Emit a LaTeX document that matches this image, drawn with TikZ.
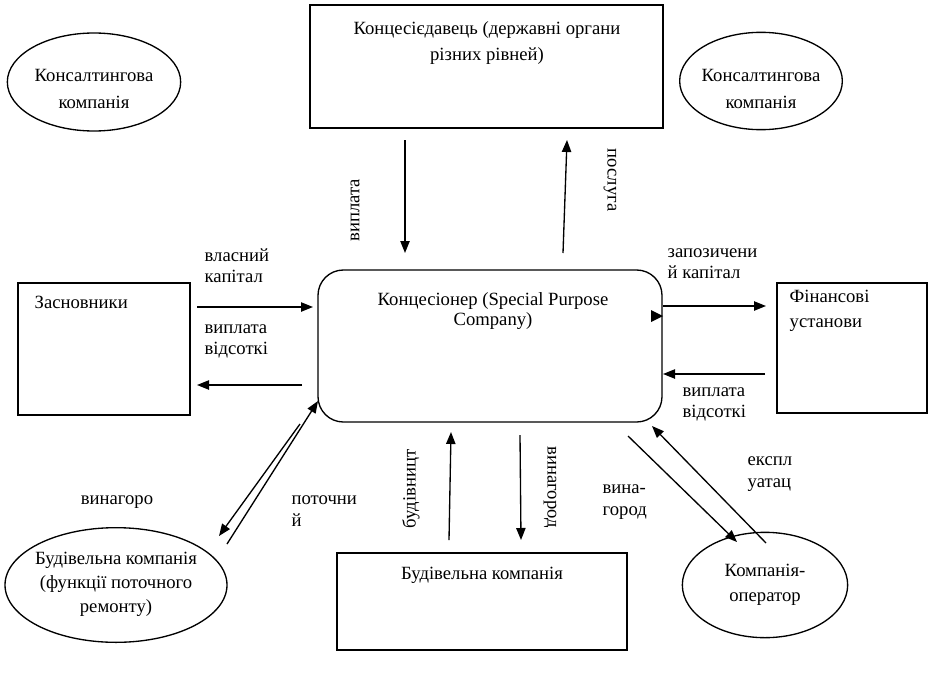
\documentclass[tikz,border=0pt]{standalone}
\usepackage{fontspec}
\setmainfont{Liberation Serif}
\usetikzlibrary{shapes.geometric,arrows.meta}
\begin{document}
\begin{tikzpicture}[x=0.75pt,y=-0.75pt,
  font=\fontsize{14}{16}\selectfont, line width=1pt,
  arr/.style={-{Triangle[length=9pt,width=7pt]}},
  ell/.style={draw, ellipse, inner sep=0pt},
  txt/.style={inner sep=0pt, align=center},
  ltxt/.style={inner sep=0pt, align=left},
  rtxt/.style={inner sep=0pt}]
\useasboundingbox (0,0) rectangle (945,675);

% shapes
\node[ell, minimum width=130pt, minimum height=73.5pt] (consL) at (94,82) {};
\node[txt] (consLt) at (94,89) {Консалтингова\\[4pt]компанія};
\node[ell, minimum width=122pt, minimum height=73pt] (consR) at (761,81) {};
\node[txt] (consRt) at (761,89) {Консалтингова\\[4pt]компанія};

\draw (310,5) rectangle (663,128);
\coordinate (grantor) at (486.5,66.5);
\node[txt] (grantort) at (487,43) {Концесієдавець (державні органи\\[3pt]різних рівней)};

\draw[rounded corners=19pt] (318,270) rectangle (662,422);
\coordinate (spc) at (490,346);
\node[txt, font=\fontsize{14}{15.5}\selectfont] (spct) at (493,311) {Концесіонер (Special Purpose\\Company)};

\draw (18,283) rectangle (190,415);
\node[ltxt, anchor=west] (foundt) at (34,302) {Засновники};

\draw (777,283) rectangle (927,413);
\node[ltxt, anchor=north west] (fint) at (789,289) {Фінансові\\[3pt]установи};

\draw (337,553) rectangle (627,650);
\node[txt] (buildt) at (482,575) {Будівельна компанія};

\node[ell, minimum width=166.5pt, minimum height=86pt] (bl) at (116,585) {};
\node[txt] (blt) at (116,584) {Будівельна компанія\\[2pt](функції поточного\\[2pt]ремонту)};
\node[ell, minimum width=124pt, minimum height=79pt] (br) at (765,585) {};
\node[txt] (brt) at (765,585) {Компанія-\\[3pt]оператор};

% arrows
\coordinate (a1s) at (405,140); \coordinate (a1e) at (405,253);
\draw[arr] (a1s) -- (a1e);
\node[rtxt, rotate=90] (l1) at (355,210) {виплата};

\coordinate (a2s) at (563,253); \coordinate (a2e) at (567,140);
\draw[arr] (a2s) -- (a2e);
\node[rtxt, rotate=-90] (l2) at (610,180) {послуга};

\coordinate (a3s) at (197,307); \coordinate (a3e) at (313,307);
\draw[arr] (a3s) -- (a3e);
\node[ltxt, anchor=north west] (l3) at (204,248) {власний\\капітал};

\coordinate (a4s) at (302,385); \coordinate (a4e) at (197,385);
\draw[arr] (a4s) -- (a4e);
\node[ltxt, anchor=north west] (l4) at (204,324) {виплата\\відсоткі};

\coordinate (a5s) at (663,306); \coordinate (a5e) at (766,306);
\draw[arr] (a5s) -- (a5e);
\node[ltxt, anchor=north west] (l5) at (667,248) {запозичени\\й капітал};
\fill (651,310) -- (663,316) -- (651,322) -- cycle;

\coordinate (a6s) at (765,374); \coordinate (a6e) at (663,374);
\draw[arr] (a6s) -- (a6e);
\node[ltxt, anchor=north west] (l6) at (682,387) {виплата\\відсоткі};

\coordinate (a7s) at (449,540); \coordinate (a7e) at (451,432);
\draw[arr] (a7s) -- (a7e);
\node[rtxt, rotate=90] (l7) at (411,489) {будівницт};

\coordinate (a8s) at (520,435); \coordinate (a8e) at (521,540);
\draw[arr] (a8s) -- (a8e);
\node[rtxt, rotate=-90] (l8) at (550,487) {винагород};

\coordinate (a9s) at (628,436); \coordinate (a9e) at (737,542);
\draw[arr] (a9s) -- (a9e);
\node[ltxt, anchor=west] (l9) at (602,502) {вина-\\город};

\coordinate (a10s) at (766,543); \coordinate (a10e) at (652,426);
\draw[arr] (a10s) -- (a10e);
\node[ltxt, anchor=west] (l10) at (747,474) {експл\\уатац};

\coordinate (a11s) at (300,424); \coordinate (a11e) at (219,536);
\draw[arr] (a11s) -- (a11e);
\node[ltxt] (l11) at (117,502) {винагоро};

\coordinate (a12s) at (227,544); \coordinate (a12e) at (318,401);
\draw[arr] (a12s) -- (a12e);
\node[ltxt, anchor=west] (l12) at (291,511) {поточни\\й};
\end{tikzpicture}
\end{document}
